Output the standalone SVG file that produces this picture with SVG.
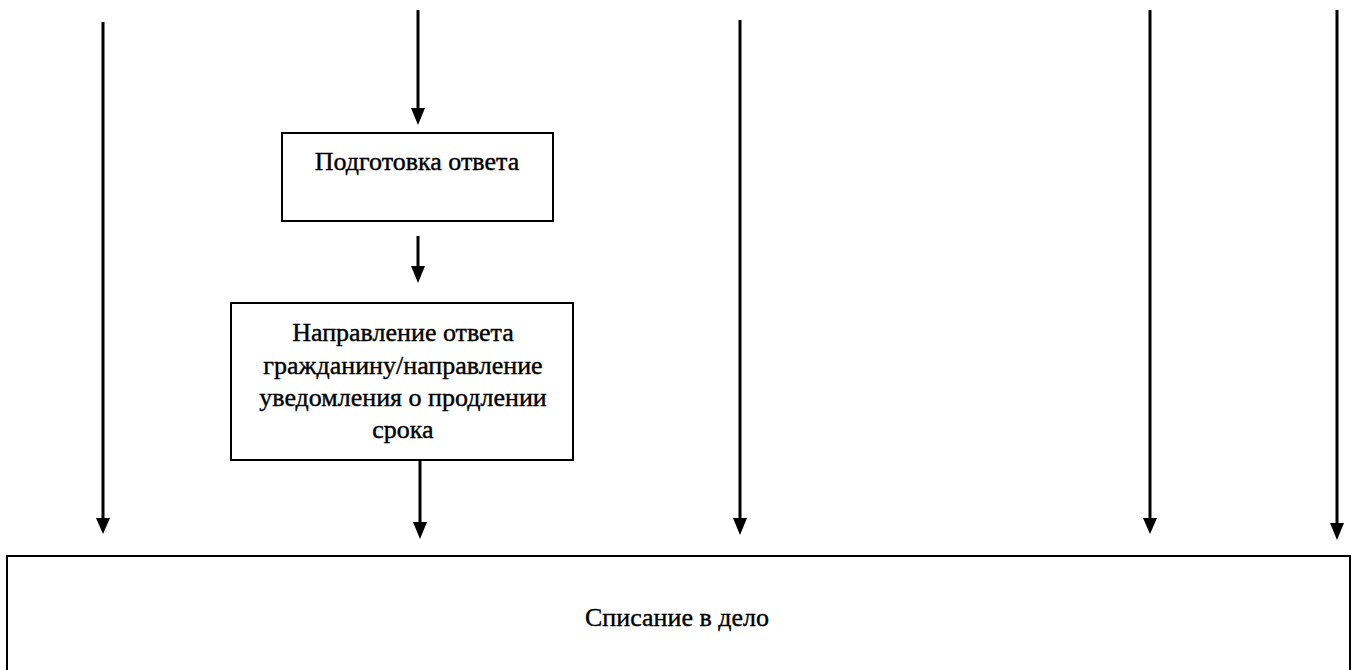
<svg xmlns="http://www.w3.org/2000/svg" width="1361" height="670" viewBox="0 0 1361 670">
<style>
.box{fill:#fff;stroke:#000;stroke-width:2}
.ln{stroke:#000;stroke-width:3;fill:none}
.hd{fill:#000}
.t{font-family:"Liberation Serif","Times New Roman",serif;font-size:26px;fill:#000;stroke:#000;stroke-width:0.4;text-anchor:middle}
</style>
<rect width="1361" height="670" fill="#fff"/>
<g id="connectors">
<line class="ln" x1="103" y1="22" x2="103" y2="520"/><polygon class="hd" points="96,518 110,518 103,534"/>
<line class="ln" x1="418" y1="10" x2="418" y2="110"/><polygon class="hd" points="411,108 425,108 418,125"/>
<line class="ln" x1="418" y1="236" x2="418" y2="268"/><polygon class="hd" points="411,266 425,266 418,283"/>
<line class="ln" x1="420" y1="460" x2="420" y2="524"/><polygon class="hd" points="413,522 427,522 420,539"/>
<line class="ln" x1="740" y1="20" x2="740" y2="520"/><polygon class="hd" points="733,518 747,518 740,535"/>
<line class="ln" x1="1150" y1="10" x2="1150" y2="520"/><polygon class="hd" points="1143,518 1157,518 1150,534"/>
<line class="ln" x1="1337" y1="10" x2="1337" y2="525"/><polygon class="hd" points="1330,523 1344,523 1337,540"/>
</g>
<g id="node-podgotovka">
<rect class="box" x="282" y="133" width="271" height="88"/>
<text class="t" x="417" y="170">Подготовка ответа</text>
</g>
<g id="node-napravlenie">
<rect class="box" x="231" y="303" width="342" height="157"/>
<text class="t" x="403" y="341">Направление ответа</text>
<text class="t" x="403" y="374">гражданину/направление</text>
<text class="t" x="403" y="406">уведомления о продлении</text>
<text class="t" x="403" y="438">срока</text>
</g>
<g id="node-spisanie">
<rect class="box" x="7" y="556" width="1343" height="130"/>
<text class="t" x="677" y="626">Списание в дело</text>
</g>
</svg>
